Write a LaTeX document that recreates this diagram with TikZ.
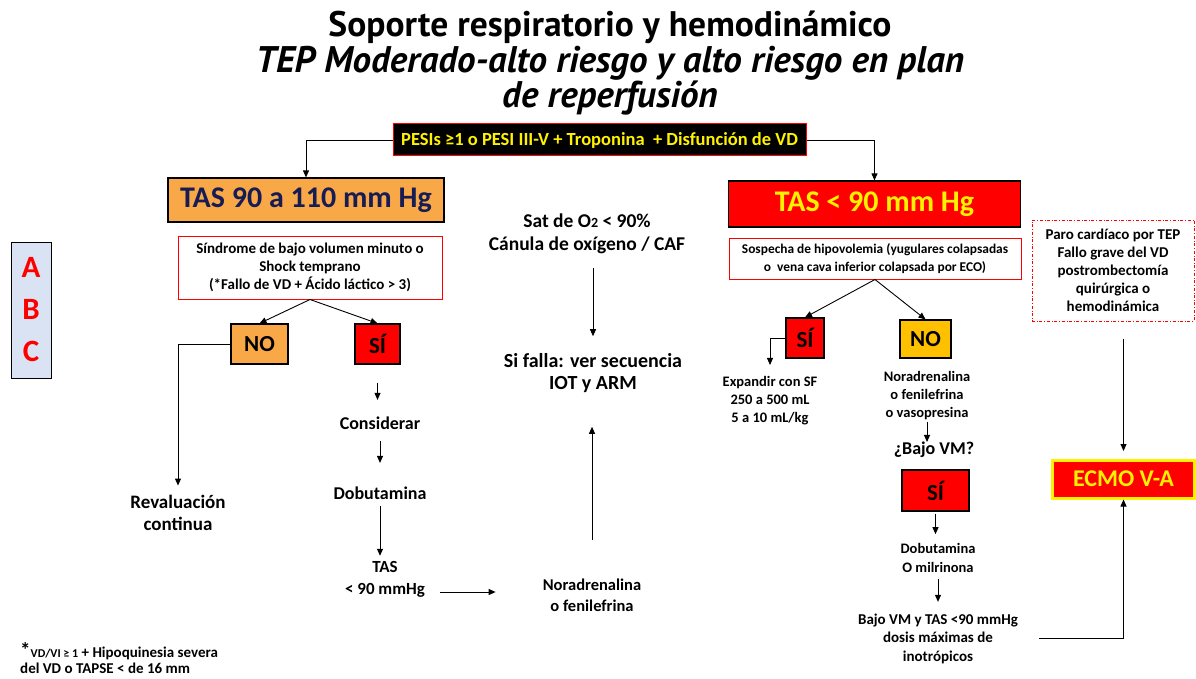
\documentclass[tikz,border=0pt]{standalone}
\usepackage{fontspec}
\setmainfont{Carlito}
\newfontfamily\titlefont{PT Sans}
\usetikzlibrary{arrows.meta}
\definecolor{tasorange}{RGB}{249,168,72}
\definecolor{noyellow}{RGB}{255,192,0}
\definecolor{abcblue}{RGB}{218,227,243}
\definecolor{tasnavy}{RGB}{22,28,84}
\definecolor{signred}{RGB}{255,0,0}
\newcommand{\fsz}[2]{\fontsize{#1}{#2}\selectfont\bfseries}
\tikzstyle{every node}=[inner sep=0pt, align=center, font=\bfseries]
\tikzstyle{box}=[draw=black, line width=1.2pt]
\tikzstyle{redframe}=[draw=signred, line width=1pt, fill=white]
\tikzstyle{arr}=[-{Triangle[length=7pt,width=6pt]}, line width=0.9pt]

\begin{document}
\begin{tikzpicture}[x=1pt, y=-1pt]
\useasboundingbox (0,0) rectangle (1196,679);
% Title
    \node[font=\titlefont\fsz{35.5}{38}] (title1) at (610,27) {Soporte respiratorio y hemodinámico};
    \node[font=\titlefont\fsz{37}{38}\itshape] (title2) at (610,63) {TEP Moderado-alto riesgo y alto riesgo en plan};
    \node[font=\titlefont\fsz{37}{38}\itshape] (title3) at (610,98) {de reperfusión};
% Banner
    \node[draw=signred, fill=black, line width=1pt, minimum width=413, minimum height=32, text=yellow, font=\fsz{18.5}{20}] (banner) at (599.5,140) {PESIs ≥1 o PESI III-V + Troponina \ + Disfunción de VD};
% ABC
    \node[draw=black, fill=abcblue, line width=1pt, minimum width=40, minimum height=136, text=signred, font=\fsz{31}{42}] (abc) at (31,310) {A\\B\\C};
% Left branch
    \node[box, fill=tasorange, minimum width=276, minimum height=44, text=tasnavy, font=\fsz{30}{32}] (tasA) at (306,200) {TAS 90 a 110 mm Hg};
    \node[redframe, minimum width=264, minimum height=63, font=\fsz{15}{18}] (sindrome) at (310,267.5) {Síndrome de bajo volumen minuto o\\Shock temprano\\(*Fallo de VD + Ácido láctico > 3)};
    \node[box, fill=tasorange, minimum width=57, minimum height=40, font=\fsz{23}{24}] (noA) at (259.5,344) {NO};
    \node[box, fill=signred, minimum width=45, minimum height=40, font=\fsz{23}{24}] (siA) at (377.5,344) {SÍ};
    \node[font=\fsz{19}{22}] (revalua) at (178,513) {Revaluación\\continua};
    \node[font=\fsz{18}{22}] (considerar) at (380,423) {Considerar};
    \node[font=\fsz{18}{22}] (dobutA) at (380,493) {Dobutamina};
    \node[font=\fsz{17}{22}] (tasLow) at (385,579) {TAS\\< 90 mmHg};
% Middle column
    \node[font=\fsz{19.5}{23}] (sat) at (587,234) {Sat de O{\fontsize{14}{14}\selectfont 2} < 90\%\\Cánula de oxígeno / CAF};
    \node[font=\fsz{20}{22}] (falla) at (593,373) {Si falla: ver secuencia\\IOT y ARM};
    \node[font=\fsz{16.5}{21}] (noradA) at (592,595) {Noradrenalina\\o fenilefrina};
% Right branch
    \node[box, fill=signred, minimum width=292, minimum height=46, text=yellow, font=\fsz{30}{32}] (tasB) at (874.5,204) {TAS < 90 mm Hg};
    \node[redframe, minimum width=292, minimum height=41, font=\fsz{13.4}{18}] (sospecha) at (875,258.5) {Sospecha de hipovolemia (yugulares colapsadas\\ o \ vena cava inferior colapsada por ECO)};
    \node[box, fill=signred, minimum width=38, minimum height=40, font=\fsz{23}{24}] (siB) at (805,338) {SÍ};
    \node[box, fill=noyellow, minimum width=51, minimum height=38, font=\fsz{23}{24}] (noB) at (925.5,339) {NO};
    \node[font=\fsz{14.5}{18}] (expandir) at (770,401) {Expandir con SF\\250 a 500 mL\\5 a 10 mL/kg};
    \node[font=\fsz{14.5}{18}] (noradB) at (927,395.5) {Noradrenalina\\o fenilefrina\\o vasopresina};
    \node[font=\fsz{18}{20}] (bajoVM) at (934,450) {¿Bajo VM?};
    \node[box, fill=signred, minimum width=67, minimum height=41, font=\fsz{23}{24}] (siC) at (935.5,490.5) {SÍ};
    \node[font=\fsz{14.5}{19}] (dobutB) at (938,557.5) {Dobutamina\\O milrinona};
    \node[font=\fsz{15}{18.5}] (maxdos) at (938,638.5) {Bajo VM y TAS <90 mmHg\\dosis máximas de\\inotrópicos};
% ECMO
    \node[draw=signred, dash dot, line width=1pt, minimum width=162, minimum height=101, font=\fsz{15}{18}] (paro) at (1113,270.5) {Paro cardíaco por TEP\\Fallo grave del VD\\postrombectomía\\quirúrgica o\\hemodinámica};
    \node[draw=yellow, fill=signred, line width=3pt, minimum width=142, minimum height=38, text=yellow, font=\fsz{24}{24}] (ecmo) at (1123.5,479) {ECMO V-A};
% Footnote
    \node[anchor=west, align=left, font=\fsz{15}{16.5}] (nota) at (20,658) {{\fontsize{21}{16}\selectfont *}{\fontsize{12}{16}\selectfont VD/VI ≥ 1} + Hipoquinesia severa\\del VD o TAPSE < de 16 mm};
% Arrows
    \draw[arr] (banner.west) -| (tasA.north);
    \draw[arr] (banner.east) -| (tasB.north);
    \draw[arr] (sindrome.south) -- (noA.north);
    \draw[arr] (sindrome.south) -- (siA.north);
    \draw[arr, shorten >=9.5pt] (noA.west) -| (revalua.north);
    \draw[arr, shorten <=18pt, shorten >=16.5pt] (siA.south) -- (siA.south |- considerar.north);
    \draw[arr, shorten <=11.5pt, shorten >=23.5pt] (considerar.south) -- (dobutA.north);
    \draw[arr, shorten <=6.5pt, shorten >=5pt] (dobutA.south) -- (dobutA.south |- tasLow.north);
    \draw[arr, shorten <=15pt, shorten >=47pt] ([yshift=-13pt]tasLow.east) -- ([yshift=-13pt]tasLow.east -| noradA.west);
    \draw[arr, shorten <=14pt, shorten >=17pt] (sat.south -| falla.north) -- (falla.north);
    \draw[arr, shorten <=38pt, shorten >=34pt] (noradA.north) -- (noradA.north |- falla.south);
    \draw[arr] (sospecha.south) -- (siB.north);
    \draw[arr] (sospecha.south) -- (noB.north);
    \draw[arr, shorten >=11.5pt] (siB.west) -| (expandir.north);
    \draw[arr, shorten <=2.5pt] (noradB.south) -- (noradB.south |- bajoVM.north);
    \draw[arr, shorten <=2pt, shorten >=8.5pt] (siC.south) -- (siC.south |- dobutB.north);
    \draw[arr, shorten <=6.5pt, shorten >=11.5pt] (dobutB.south) -- (dobutB.south |- maxdos.north);
    \draw[arr, shorten <=17pt, shorten >=7.5pt] (paro.south -| ecmo.north) -- (ecmo.north);
    \draw[arr, shorten <=21pt] (maxdos.east) -| (ecmo.south);
\end{tikzpicture}
\end{document}
